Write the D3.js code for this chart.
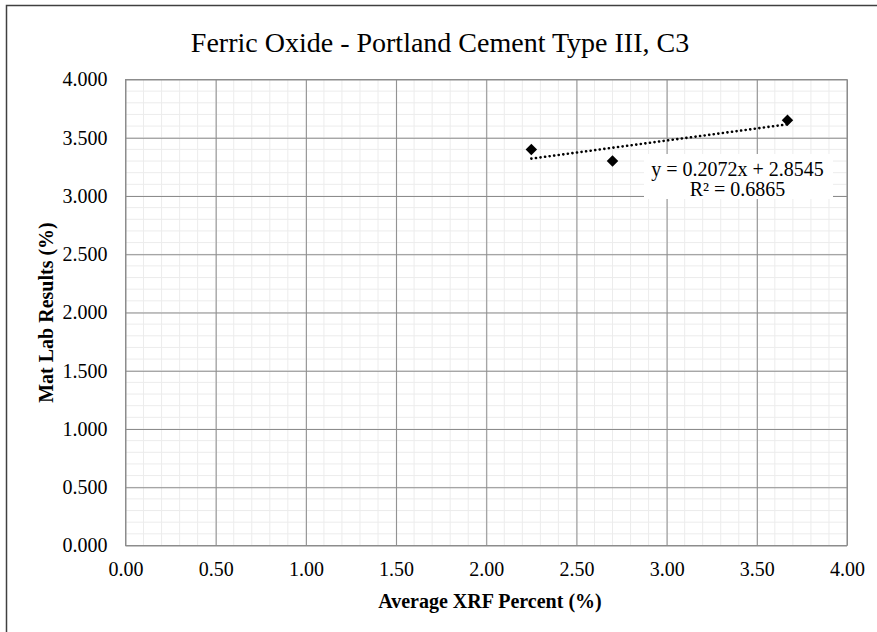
<!DOCTYPE html>
<html>
<head>
<meta charset="utf-8">
<script src="https://cdn.jsdelivr.net/npm/d3@7"></script>
<style>
  body { margin: 0; background: #fff; }
  text { font-family: "Liberation Serif", "Times New Roman", serif; fill: #000; }
</style>
</head>
<body>
<div id="chart"></div>
<script>
// Data
const xValues = [2.25, 2.70, 3.67];
const yValues = [3.40, 3.30, 3.65];
const xTicks = [0, 0.5, 1, 1.5, 2, 2.5, 3, 3.5, 4];
const yTicks = [0, 0.5, 1, 1.5, 2, 2.5, 3, 3.5, 4];
const trendSlope = 0.2072;
const trendIntercept = 2.8545;
const trendLabels = ["y = 0.2072x + 2.8545", "R\u00b2 = 0.6865"];

const points = xValues.map((x, i) => ({x, y: yValues[i]}));

// Chart dimensions
const width = 877;
const height = 632;
const marginTop = 79.5;
const marginRight = 30;
const marginBottom = 86.5;
const marginLeft = 125.5;

const x = d3.scaleLinear([0, 4], [marginLeft, width - marginRight]);
const y = d3.scaleLinear([0, 4], [height - marginBottom, marginTop]);

const svg = d3.select("#chart").append("svg")
    .attr("width", width)
    .attr("height", height)
    .attr("viewBox", [0, 0, width, height]);

// outer chart border (right and bottom run off the picture)
svg.append("rect")
    .attr("x", 6.5).attr("y", 5.5)
    .attr("width", width + 10).attr("height", height + 10)
    .attr("fill", "none")
    .attr("stroke", "#404040")
    .attr("stroke-width", 1.5);

// minor grid
const minor = d3.range(0, 4.0001, 0.1);
svg.append("g")
    .selectAll("line")
    .data(minor)
    .join("line")
      .attr("x1", d => x(d)).attr("x2", d => x(d))
      .attr("y1", y(0)).attr("y2", y(4))
      .attr("stroke", "#ececec");
svg.append("g")
    .selectAll("line")
    .data(minor)
    .join("line")
      .attr("y1", d => y(d)).attr("y2", d => y(d))
      .attr("x1", x(0)).attr("x2", x(4))
      .attr("stroke", "#ececec");

// major grid
svg.append("g")
    .attr("transform", `translate(0,${y(0)})`)
    .call(d3.axisBottom(x).tickValues(xTicks).tickSize(-(y(0) - y(4))).tickFormat(""))
    .call(g => g.select(".domain").remove())
    .call(g => g.selectAll(".tick line").attr("stroke", "#8c8c8c"));
svg.append("g")
    .attr("transform", `translate(${x(0)},0)`)
    .call(d3.axisLeft(y).tickValues(yTicks).tickSize(-(x(4) - x(0))).tickFormat(""))
    .call(g => g.select(".domain").remove())
    .call(g => g.selectAll(".tick line").attr("stroke", "#8c8c8c"));

// plot border
svg.append("rect")
    .attr("x", x(0)).attr("y", y(4))
    .attr("width", x(4) - x(0)).attr("height", y(0) - y(4))
    .attr("fill", "none")
    .attr("stroke", "#8c8c8c");

// tick labels
svg.append("g")
    .attr("transform", `translate(0,${y(0)})`)
    .call(d3.axisBottom(x).tickValues(xTicks).tickSize(0).tickPadding(16).tickFormat(d3.format(".2f")))
    .call(g => g.select(".domain").remove())
    .call(g => g.selectAll("text").attr("font-size", 20).attr("fill", "#000"));
svg.append("g")
    .attr("transform", `translate(${x(0)},0)`)
    .call(d3.axisLeft(y).tickValues(yTicks).tickSize(0).tickPadding(18).tickFormat(d3.format(".3f")))
    .call(g => g.select(".domain").remove())
    .call(g => g.selectAll("text").attr("font-size", 20).attr("fill", "#000"));

// trend line (round dots)
const x0 = d3.min(xValues), x1 = d3.max(xValues);
svg.append("line")
    .attr("x1", x(x0)).attr("y1", y(trendSlope * x0 + trendIntercept))
    .attr("x2", x(x1)).attr("y2", y(trendSlope * x1 + trendIntercept))
    .attr("stroke", "#000")
    .attr("stroke-width", 2.6)
    .attr("stroke-linecap", "round")
    .attr("stroke-dasharray", "0.1,4.5");

// markers
svg.append("g")
    .selectAll("path")
    .data(points)
    .join("path")
      .attr("transform", d => `translate(${x(d.x)},${y(d.y)})`)
      .attr("d", d3.symbol(d3.symbolDiamond2, 84))
      .attr("fill", "#000");

// trendline label
svg.append("rect")
    .attr("x", 644).attr("y", 154)
    .attr("width", 189).attr("height", 45)
    .attr("fill", "#fff");
svg.append("g")
    .selectAll("text")
    .data(trendLabels)
    .join("text")
      .attr("x", 737.5)
      .attr("y", (d, i) => 176 + i * 20)
      .attr("text-anchor", "middle")
      .attr("font-size", 20)
      .text(d => d);

// title
svg.append("text")
    .attr("x", 440).attr("y", 52)
    .attr("text-anchor", "middle")
    .attr("font-size", 28)
    .text("Ferric Oxide - Portland Cement Type III, C3");

// axis titles
svg.append("text")
    .attr("x", 490).attr("y", 608)
    .attr("text-anchor", "middle")
    .attr("font-size", 20)
    .attr("font-weight", "bold")
    .text("Average XRF Percent (%)");
svg.append("text")
    .attr("transform", `translate(53,${(y(0) + y(4)) / 2}) rotate(-90)`)
    .attr("text-anchor", "middle")
    .attr("font-size", 20)
    .attr("font-weight", "bold")
    .text("Mat Lab Results (%)");
</script>
</body>
</html>
